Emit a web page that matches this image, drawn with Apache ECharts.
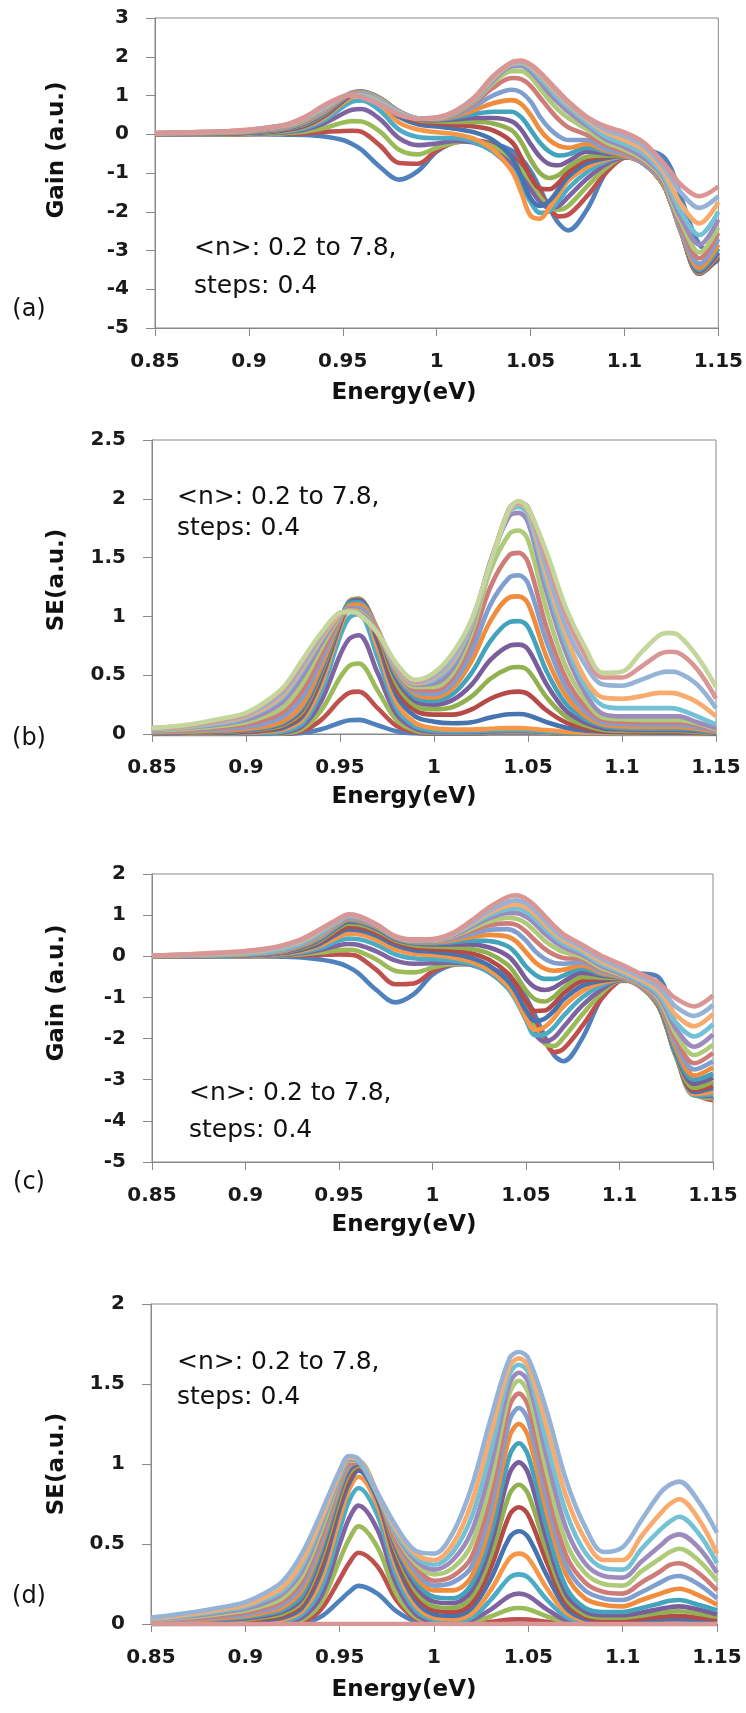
<!DOCTYPE html>
<html><head><meta charset="utf-8">
<script src="https://cdn.jsdelivr.net/npm/echarts/dist/echarts.min.js"></script>
<style>html,body{margin:0;padding:0;background:#fff;}#c{width:746px;height:1713px;}</style>
</head><body><div id="c"></div>
<script>
// Energy grids (eV)
const X_GAIN = [0.85,0.87,0.89,0.90,0.91,0.92,0.93,0.94,0.95,0.955,0.96,0.97,0.98,0.99,1.00,1.01,1.02,1.03,1.04,1.045,1.05,1.055,1.06,1.065,1.07,1.08,1.09,1.10,1.11,1.12,1.125,1.13,1.14,1.15];
const X_SE = [0.85,0.87,0.89,0.90,0.91,0.92,0.93,0.94,0.95,0.955,0.96,0.97,0.98,0.99,1.00,1.01,1.02,1.03,1.04,1.045,1.05,1.06,1.07,1.08,1.09,1.10,1.11,1.12,1.125,1.13,1.14,1.15];
const X_TICK_LABELS = ['0.85','0.9','0.95','1','1.05','1.1','1.15'];

// (a) Gain, <n> = 0.2 ... 7.8
const GAIN_A = [
[0,0,0,0,0,-0.01,-0.02,-0.06,-0.15,-0.25,-0.40,-0.85,-1.17,-0.95,-0.45,-0.20,-0.16,-0.24,-0.42,-0.62,-0.95,-1.40,-1.90,-2.30,-2.48,-1.95,-1.00,-0.55,-0.42,-0.55,-0.90,-1.60,-2.85,-3.10],
[0,0,0,0.003,0.007,0.015,0.03,0.06,0.085,0.09,0.06,-0.30,-0.74,-0.76,-0.42,-0.21,-0.17,-0.28,-0.55,-0.78,-1.10,-1.50,-1.90,-2.12,-2.08,-1.60,-1.00,-0.60,-0.55,-0.95,-1.45,-2.20,-3.35,-3.15],
[0,0,0.004,0.008,0.015,0.03,0.07,0.16,0.30,0.34,0.33,0.06,-0.40,-0.52,-0.35,-0.21,-0.18,-0.32,-0.65,-0.92,-1.25,-1.62,-1.88,-1.95,-1.85,-1.35,-0.88,-0.60,-0.66,-1.10,-1.60,-2.35,-3.45,-3.20],
[0,0.003,0.008,0.015,0.028,0.055,0.12,0.28,0.53,0.63,0.65,0.38,-0.10,-0.28,-0.24,-0.17,-0.22,-0.42,-0.78,-1.08,-1.42,-1.75,-1.90,-1.85,-1.62,-1.15,-0.78,-0.60,-0.70,-1.20,-1.72,-2.45,-3.50,-3.25],
[0.002,0.005,0.012,0.022,0.04,0.075,0.16,0.36,0.70,0.84,0.87,0.60,0.12,-0.07,-0.10,-0.10,-0.20,-0.45,-0.90,-1.30,-1.75,-2.03,-1.98,-1.72,-1.40,-0.98,-0.70,-0.58,-0.73,-1.25,-1.78,-2.50,-3.50,-3.20],
[0.004,0.008,0.017,0.03,0.05,0.095,0.20,0.42,0.80,0.96,1.00,0.76,0.30,0.12,0.05,0.0,-0.12,-0.40,-0.95,-1.50,-2.10,-2.18,-1.90,-1.55,-1.20,-0.85,-0.65,-0.57,-0.75,-1.25,-1.80,-2.50,-3.55,-3.20],
[0.006,0.012,0.022,0.037,0.06,0.11,0.22,0.46,0.85,1.02,1.06,0.85,0.45,0.26,0.20,0.14,0.05,-0.15,-0.60,-1.10,-1.65,-1.85,-1.72,-1.42,-1.10,-0.75,-0.62,-0.56,-0.75,-1.25,-1.80,-2.50,-3.60,-3.20],
[0.008,0.015,0.027,0.043,0.07,0.125,0.24,0.49,0.88,1.05,1.09,0.90,0.52,0.33,0.28,0.24,0.20,0.10,-0.20,-0.60,-1.10,-1.40,-1.42,-1.25,-0.98,-0.65,-0.58,-0.55,-0.75,-1.25,-1.80,-2.50,-3.60,-3.15],
[0.01,0.018,0.032,0.05,0.08,0.14,0.26,0.51,0.90,1.06,1.10,0.92,0.56,0.37,0.33,0.32,0.32,0.28,0.10,-0.20,-0.65,-1.00,-1.13,-1.05,-0.85,-0.58,-0.55,-0.55,-0.75,-1.25,-1.80,-2.50,-3.58,-3.10],
[0.012,0.022,0.037,0.056,0.09,0.15,0.28,0.53,0.91,1.07,1.10,0.93,0.58,0.39,0.36,0.38,0.42,0.42,0.33,0.12,-0.25,-0.58,-0.77,-0.80,-0.70,-0.45,-0.50,-0.55,-0.75,-1.25,-1.80,-2.50,-3.55,-3.05],
[0.014,0.025,0.042,0.062,0.10,0.16,0.30,0.55,0.92,1.07,1.09,0.93,0.59,0.40,0.38,0.43,0.52,0.58,0.58,0.44,0.12,-0.22,-0.45,-0.55,-0.52,-0.35,-0.45,-0.55,-0.75,-1.25,-1.80,-2.50,-3.50,-2.95],
[0.016,0.028,0.047,0.068,0.11,0.17,0.32,0.57,0.93,1.07,1.08,0.92,0.59,0.40,0.39,0.47,0.62,0.80,0.88,0.78,0.50,0.12,-0.15,-0.30,-0.35,-0.25,-0.42,-0.55,-0.75,-1.25,-1.80,-2.50,-3.45,-2.85],
[0.018,0.031,0.052,0.075,0.12,0.18,0.34,0.59,0.94,1.06,1.07,0.91,0.59,0.41,0.40,0.50,0.72,1.00,1.15,1.08,0.85,0.45,0.15,-0.05,-0.15,-0.15,-0.38,-0.50,-0.75,-1.20,-1.80,-2.45,-3.35,-2.70],
[0.02,0.035,0.057,0.082,0.13,0.20,0.36,0.61,0.95,1.05,1.06,0.90,0.59,0.41,0.41,0.53,0.80,1.20,1.45,1.42,1.25,0.95,0.65,0.38,0.18,-0.02,-0.28,-0.45,-0.70,-1.15,-1.75,-2.35,-3.20,-2.55],
[0.022,0.038,0.062,0.088,0.14,0.21,0.38,0.63,0.96,1.04,1.05,0.89,0.58,0.41,0.41,0.55,0.85,1.32,1.63,1.63,1.48,1.18,0.88,0.62,0.42,0.12,-0.20,-0.40,-0.65,-1.10,-1.70,-2.25,-3.05,-2.40],
[0.024,0.042,0.068,0.095,0.15,0.22,0.40,0.65,0.97,1.03,1.04,0.87,0.58,0.41,0.42,0.57,0.88,1.38,1.75,1.76,1.62,1.35,1.05,0.80,0.58,0.22,-0.13,-0.33,-0.60,-1.05,-1.60,-2.15,-2.85,-2.20],
[0.026,0.045,0.073,0.10,0.16,0.23,0.42,0.67,0.97,1.02,1.02,0.85,0.57,0.41,0.42,0.58,0.90,1.42,1.80,1.82,1.70,1.45,1.18,0.92,0.70,0.30,-0.05,-0.25,-0.50,-1.00,-1.50,-2.00,-2.60,-2.00],
[0.028,0.048,0.078,0.105,0.17,0.24,0.43,0.69,0.97,1.01,1.00,0.82,0.55,0.41,0.42,0.59,0.92,1.45,1.83,1.86,1.76,1.53,1.28,1.02,0.78,0.38,0.05,-0.15,-0.40,-0.90,-1.35,-1.80,-2.30,-1.75],
[0.03,0.05,0.082,0.11,0.18,0.25,0.45,0.71,0.97,1.00,0.98,0.79,0.53,0.41,0.43,0.60,0.94,1.48,1.85,1.88,1.79,1.58,1.33,1.07,0.82,0.42,0.12,-0.05,-0.30,-0.80,-1.15,-1.50,-1.90,-1.60],
[0.03,0.055,0.085,0.12,0.17,0.25,0.45,0.75,0.97,1.00,0.95,0.75,0.50,0.40,0.43,0.60,0.95,1.50,1.86,1.90,1.80,1.60,1.35,1.10,0.85,0.45,0.20,0.05,-0.20,-0.70,-1.00,-1.30,-1.60,-1.35]
];

// (b) SE
const SE_B = [
[0,0,0,0,0,0.001,0.008,0.04,0.096,0.117,0.12,0.074,0.024,0.006, 0.002,0.002,0.003,0.004,0.005,0.005,0.005,0.004,0.002,0.001,0, 0,0,0,0,0,0,0],
[0,0,0,0,0,0.004,0.025,0.12,0.29,0.35,0.36,0.22,0.07,0.017, 0.006,0.006,0.008,0.01,0.012,0.012,0.011,0.008,0.005,0.003,0.002, 0.001,0.001,0.001,0.001,0.001,0,0],
[0,0,0,0.001,0.002,0.007,0.043,0.20,0.48,0.58,0.60,0.37,0.12,0.03, 0.012,0.011,0.013,0.016,0.018,0.018,0.017,0.012,0.007,0.004,0.003, 0.002,0.002,0.002,0.002,0.002,0.001,0.001],
[0,0,0.001,0.002,0.004,0.012,0.065,0.28,0.67,0.81,0.84,0.52,0.17,0.045, 0.018,0.016,0.018,0.022,0.026,0.026,0.024,0.017,0.01,0.006,0.004, 0.003,0.003,0.003,0.003,0.003,0.002,0.002],
[0.001,0.002,0.004,0.006,0.01,0.024,0.09,0.36,0.83,0.99,1.02,0.65,0.22,0.065, 0.028,0.023,0.025,0.03,0.034,0.034,0.031,0.022,0.013,0.008,0.006, 0.005,0.004,0.004,0.004,0.004,0.003,0.002],
[0.003,0.005,0.008,0.012,0.02,0.04,0.12,0.42,0.90,1.07,1.10,0.73,0.27,0.095, 0.048,0.038,0.038,0.045,0.05,0.05,0.047,0.033,0.02,0.013,0.01, 0.008,0.007,0.007,0.007,0.006,0.005,0.003],
[0.005,0.008,0.012,0.017,0.028,0.055,0.15,0.47,0.93,1.11,1.14,0.79,0.33,0.15, 0.105,0.092,0.10,0.14,0.168,0.17,0.16,0.10,0.055,0.03,0.02, 0.016,0.013,0.011,0.011,0.01,0.008,0.005],
[0.007,0.01,0.016,0.022,0.035,0.07,0.17,0.50,0.95,1.13,1.15,0.83,0.38,0.2, 0.165,0.165,0.21,0.30,0.355,0.36,0.34,0.20,0.10,0.05,0.025, 0.02,0.018,0.018,0.018,0.018,0.014,0.006],
[0.009,0.013,0.02,0.028,0.042,0.08,0.19,0.52,0.96,1.13,1.15,0.86,0.43,0.24, 0.21,0.23,0.32,0.47,0.56,0.57,0.54,0.31,0.15,0.075,0.035, 0.028,0.025,0.025,0.025,0.025,0.018,0.008],
[0.011,0.016,0.024,0.033,0.05,0.09,0.21,0.54,0.97,1.12,1.14,0.88,0.47,0.28, 0.25,0.29,0.42,0.63,0.75,0.76,0.72,0.42,0.20,0.10,0.05, 0.04,0.035,0.035,0.035,0.035,0.025,0.012],
[0.013,0.019,0.028,0.038,0.056,0.10,0.23,0.56,0.97,1.11,1.12,0.89,0.50,0.31, 0.28,0.34,0.52,0.79,0.95,0.96,0.91,0.53,0.26,0.13,0.065, 0.05,0.045,0.045,0.045,0.045,0.035,0.015],
[0.015,0.022,0.032,0.043,0.063,0.11,0.25,0.58,0.97,1.09,1.10,0.89,0.52,0.34, 0.31,0.39,0.62,0.96,1.16,1.17,1.11,0.65,0.33,0.16,0.08, 0.065,0.06,0.06,0.06,0.06,0.045,0.02],
[0.02,0.03,0.045,0.06,0.09,0.15,0.31,0.63,0.98,1.07,1.07,0.87,0.53,0.36, 0.34,0.43,0.70,1.10,1.33,1.35,1.28,0.78,0.40,0.20,0.10, 0.085,0.08,0.08,0.08,0.08,0.06,0.025],
[0.025,0.038,0.06,0.08,0.12,0.19,0.37,0.68,0.99,1.06,1.05,0.86,0.54,0.38, 0.37,0.48,0.79,1.25,1.52,1.54,1.46,0.90,0.48,0.24,0.12, 0.105,0.10,0.10,0.10,0.10,0.075,0.03],
[0.03,0.046,0.075,0.10,0.15,0.23,0.43,0.73,1.0,1.05,1.04,0.86,0.55,0.40, 0.40,0.52,0.86,1.39,1.70,1.73,1.65,1.05,0.58,0.30,0.14, 0.125,0.12,0.12,0.12,0.12,0.09,0.04],
[0.035,0.055,0.09,0.12,0.18,0.28,0.49,0.77,1.01,1.04,1.03,0.86,0.56,0.42, 0.43,0.56,0.91,1.47,1.85,1.88,1.80,1.20,0.70,0.36,0.17, 0.15,0.15,0.15,0.15,0.15,0.10,0.05],
[0.04,0.06,0.10,0.14,0.21,0.32,0.54,0.80,1.02,1.04,1.02,0.86,0.57,0.43, 0.46,0.60,0.93,1.44,1.89,1.93,1.86,1.28,0.78,0.42,0.24, 0.22,0.22,0.22,0.22,0.21,0.15,0.08],
[0.042,0.065,0.11,0.15,0.22,0.34,0.56,0.81,1.02,1.04,1.02,0.86,0.57,0.43, 0.48,0.62,0.94,1.45,1.90,1.96,1.90,1.34,0.85,0.48,0.31, 0.30,0.32,0.35,0.35,0.34,0.27,0.15],
[0.045,0.07,0.12,0.16,0.24,0.36,0.58,0.83,1.03,1.04,1.02,0.86,0.58,0.44, 0.49,0.64,0.95,1.45,1.91,1.97,1.92,1.40,0.92,0.60,0.42, 0.41,0.46,0.52,0.53,0.52,0.42,0.22],
[0.05,0.075,0.13,0.17,0.26,0.38,0.61,0.85,1.03,1.04,1.02,0.86,0.59,0.45, 0.51,0.68,0.97,1.45,1.92,1.97,1.93,1.48,1.02,0.68,0.48, 0.48,0.57,0.68,0.70,0.69,0.55,0.30],
[0.05,0.08,0.14,0.18,0.27,0.40,0.63,0.86,1.03,1.04,1.02,0.86,0.60,0.46, 0.52,0.69,0.97,1.45,1.91,1.98,1.92,1.54,1.08,0.75,0.52, 0.53,0.69,0.84,0.86,0.84,0.66,0.40]
];

// (c) Gain
const GAIN_C = [
[0,0,0,0,0,-0.01,-0.03,-0.08,-0.17,-0.26,-0.40,-0.82,-1.12,-0.92,-0.45,-0.22,-0.18,-0.27,-0.48,-0.68,-1.00,-1.45,-1.95,-2.40,-2.55,-2.00,-1.05,-0.55,-0.42,-0.48,-0.85,-1.70,-3.10,-3.50],
[0,0,0,0.002,0.005,0.01,0.02,0.035,0.045,0.04,0.0,-0.33,-0.68,-0.66,-0.37,-0.20,-0.18,-0.30,-0.58,-0.82,-1.15,-1.60,-2.05,-2.33,-2.25,-1.70,-1.05,-0.60,-0.52,-0.85,-1.30,-2.05,-3.30,-3.50],
[0,0,0.003,0.006,0.012,0.022,0.045,0.09,0.15,0.16,0.13,-0.08,-0.35,-0.39,-0.28,-0.19,-0.19,-0.34,-0.66,-0.93,-1.30,-1.78,-2.12,-2.18,-1.98,-1.42,-0.92,-0.60,-0.60,-1.00,-1.50,-2.20,-3.35,-3.45],
[0,0.002,0.006,0.01,0.02,0.035,0.075,0.15,0.27,0.30,0.28,0.12,-0.10,-0.18,-0.17,-0.15,-0.20,-0.38,-0.74,-1.04,-1.45,-1.90,-2.07,-1.98,-1.72,-1.20,-0.82,-0.58,-0.64,-1.08,-1.60,-2.30,-3.38,-3.40],
[0.001,0.004,0.009,0.015,0.027,0.05,0.10,0.20,0.38,0.43,0.42,0.28,0.05,-0.05,-0.07,-0.10,-0.18,-0.38,-0.76,-1.10,-1.55,-1.92,-1.90,-1.72,-1.45,-1.00,-0.72,-0.57,-0.67,-1.12,-1.65,-2.35,-3.38,-3.35],
[0.002,0.006,0.012,0.02,0.035,0.065,0.13,0.26,0.48,0.55,0.54,0.40,0.17,0.06,0.03,-0.02,-0.12,-0.32,-0.70,-1.05,-1.50,-1.79,-1.72,-1.50,-1.22,-0.85,-0.65,-0.56,-0.69,-1.14,-1.68,-2.38,-3.35,-3.30],
[0.003,0.008,0.015,0.025,0.042,0.078,0.16,0.31,0.57,0.65,0.64,0.50,0.27,0.15,0.11,0.06,-0.03,-0.22,-0.58,-0.90,-1.32,-1.58,-1.52,-1.32,-1.05,-0.72,-0.60,-0.55,-0.70,-1.15,-1.70,-2.40,-3.30,-3.20],
[0.004,0.01,0.018,0.03,0.05,0.09,0.18,0.35,0.63,0.72,0.71,0.57,0.34,0.22,0.18,0.14,0.08,-0.08,-0.40,-0.70,-1.08,-1.33,-1.32,-1.15,-0.90,-0.60,-0.56,-0.54,-0.70,-1.15,-1.70,-2.40,-3.25,-3.15],
[0.005,0.012,0.021,0.034,0.056,0.10,0.20,0.38,0.69,0.79,0.78,0.63,0.39,0.27,0.24,0.22,0.18,0.07,-0.20,-0.48,-0.83,-1.05,-1.10,-0.98,-0.77,-0.50,-0.52,-0.53,-0.70,-1.15,-1.70,-2.40,-3.20,-3.05],
[0.006,0.014,0.024,0.038,0.062,0.11,0.22,0.41,0.73,0.84,0.83,0.67,0.42,0.31,0.29,0.29,0.29,0.22,0.02,-0.22,-0.55,-0.76,-0.82,-0.76,-0.62,-0.40,-0.47,-0.52,-0.70,-1.12,-1.65,-2.35,-3.10,-2.95],
[0.007,0.016,0.027,0.042,0.068,0.12,0.24,0.44,0.76,0.88,0.86,0.70,0.44,0.33,0.32,0.34,0.38,0.37,0.25,0.05,-0.25,-0.45,-0.55,-0.55,-0.47,-0.30,-0.43,-0.51,-0.70,-1.10,-1.60,-2.30,-3.00,-2.85],
[0.008,0.018,0.03,0.046,0.074,0.13,0.26,0.47,0.79,0.91,0.89,0.72,0.46,0.35,0.34,0.38,0.46,0.52,0.48,0.35,0.10,-0.15,-0.30,-0.35,-0.33,-0.22,-0.40,-0.50,-0.70,-1.08,-1.55,-2.20,-2.90,-2.70],
[0.009,0.02,0.033,0.05,0.08,0.14,0.28,0.49,0.81,0.93,0.91,0.74,0.47,0.36,0.36,0.42,0.53,0.64,0.66,0.58,0.38,0.12,-0.06,-0.16,-0.18,-0.15,-0.36,-0.48,-0.68,-1.05,-1.50,-2.10,-2.75,-2.55],
[0.01,0.022,0.036,0.054,0.086,0.15,0.29,0.51,0.83,0.95,0.93,0.75,0.48,0.37,0.37,0.45,0.60,0.75,0.80,0.76,0.60,0.38,0.18,0.04,-0.04,-0.08,-0.32,-0.46,-0.66,-1.02,-1.45,-2.00,-2.60,-2.35],
[0.011,0.024,0.039,0.058,0.09,0.16,0.30,0.53,0.85,0.96,0.94,0.76,0.48,0.38,0.38,0.47,0.65,0.84,0.93,0.91,0.80,0.60,0.38,0.22,0.10,-0.02,-0.28,-0.44,-0.64,-0.98,-1.38,-1.88,-2.40,-2.15],
[0.012,0.026,0.042,0.062,0.095,0.17,0.31,0.55,0.86,0.97,0.95,0.76,0.48,0.38,0.39,0.49,0.70,0.92,1.05,1.05,0.96,0.78,0.55,0.36,0.22,0.04,-0.23,-0.41,-0.62,-0.94,-1.30,-1.75,-2.20,-1.90],
[0.013,0.028,0.045,0.066,0.10,0.18,0.32,0.57,0.87,0.98,0.96,0.76,0.48,0.39,0.40,0.51,0.74,0.99,1.14,1.16,1.08,0.90,0.68,0.47,0.31,0.10,-0.18,-0.37,-0.58,-0.88,-1.20,-1.60,-1.95,-1.65],
[0.016,0.036,0.07,0.095,0.14,0.23,0.37,0.62,0.88,0.99,0.97,0.77,0.48,0.39,0.40,0.52,0.77,1.05,1.23,1.26,1.19,1.01,0.78,0.56,0.39,0.16,-0.12,-0.32,-0.53,-0.80,-1.08,-1.42,-1.70,-1.40],
[0.018,0.042,0.085,0.11,0.16,0.25,0.40,0.64,0.89,1.00,0.98,0.77,0.48,0.40,0.41,0.53,0.80,1.10,1.32,1.36,1.29,1.11,0.87,0.64,0.46,0.22,-0.05,-0.26,-0.47,-0.72,-0.95,-1.22,-1.45,-1.18],
[0.02,0.05,0.10,0.13,0.18,0.27,0.42,0.66,0.92,1.02,0.99,0.78,0.49,0.41,0.42,0.55,0.84,1.18,1.44,1.48,1.40,1.22,0.98,0.74,0.54,0.28,0.02,-0.18,-0.40,-0.62,-0.82,-1.02,-1.22,-0.95]
];

// (d) SE
const SE_D = [
[0,0,0,0,0,0.001,0.007,0.045,0.146,0.20,0.238,0.19,0.08,0.017, 0.003,0.001,0.001,0.001,0.002,0.002,0.002,0.001,0.001,0,0, 0,0,0,0,0,0,0],
[0,0,0,0,0.001,0.002,0.014,0.09,0.28,0.38,0.445,0.36,0.15,0.035, 0.006,0.002,0.004,0.014,0.028,0.03,0.028,0.014,0.004,0.001,0, 0,0,0,0,0,0,0],
[0,0,0,0.001,0.002,0.004,0.025,0.13,0.40,0.53,0.61,0.48,0.19,0.045, 0.008,0.004,0.013,0.047,0.092,0.10,0.092,0.047,0.012,0.002,0, 0,0,0,0,0,0,0],
[0,0.001,0.002,0.003,0.005,0.009,0.04,0.17,0.50,0.66,0.74,0.59,0.25,0.065, 0.014,0.008,0.025,0.09,0.175,0.19,0.175,0.09,0.024,0.005,0.002, 0.002,0.003,0.004,0.005,0.005,0.004,0.003],
[0.001,0.002,0.004,0.006,0.01,0.018,0.06,0.22,0.59,0.77,0.85,0.68,0.30,0.09, 0.025,0.015,0.04,0.15,0.29,0.31,0.29,0.15,0.045,0.01,0.005, 0.005,0.007,0.009,0.01,0.01,0.008,0.006],
[0.002,0.004,0.007,0.01,0.016,0.028,0.08,0.27,0.66,0.84,0.92,0.74,0.35,0.12, 0.04,0.03,0.065,0.21,0.41,0.44,0.41,0.22,0.07,0.02,0.01, 0.01,0.014,0.018,0.02,0.02,0.016,0.012],
[0.004,0.007,0.012,0.016,0.024,0.04,0.10,0.32,0.72,0.88,0.96,0.78,0.39,0.15, 0.06,0.05,0.10,0.28,0.54,0.58,0.54,0.30,0.10,0.03,0.015, 0.015,0.02,0.027,0.03,0.03,0.024,0.018],
[0.006,0.01,0.017,0.022,0.033,0.053,0.12,0.36,0.76,0.91,0.98,0.80,0.42,0.18, 0.085,0.075,0.13,0.35,0.68,0.73,0.68,0.38,0.13,0.045,0.025, 0.025,0.033,0.044,0.048,0.05,0.04,0.03],
[0.008,0.013,0.022,0.028,0.042,0.065,0.14,0.40,0.79,0.94,0.99,0.81,0.45,0.21, 0.11,0.10,0.17,0.42,0.81,0.87,0.81,0.45,0.16,0.06,0.04, 0.04,0.052,0.07,0.077,0.08,0.065,0.045],
[0.01,0.016,0.027,0.035,0.05,0.078,0.16,0.43,0.82,0.96,1.0,0.81,0.47,0.24, 0.14,0.13,0.21,0.49,0.94,1.01,0.94,0.52,0.19,0.08,0.055, 0.055,0.072,0.095,0.105,0.11,0.09,0.06],
[0.013,0.02,0.033,0.042,0.06,0.09,0.18,0.46,0.84,0.98,1.01,0.81,0.49,0.27, 0.17,0.16,0.25,0.56,1.05,1.13,1.05,0.59,0.23,0.10,0.075, 0.075,0.10,0.13,0.145,0.15,0.12,0.085],
[0.016,0.025,0.04,0.05,0.07,0.105,0.21,0.49,0.86,0.99,1.01,0.81,0.50,0.30, 0.21,0.21,0.30,0.64,1.17,1.25,1.17,0.69,0.31,0.16,0.12, 0.11,0.15,0.19,0.21,0.22,0.18,0.12],
[0.019,0.03,0.048,0.06,0.085,0.125,0.24,0.52,0.88,1.0,1.01,0.81,0.52,0.33, 0.24,0.26,0.36,0.72,1.27,1.35,1.27,0.77,0.37,0.21,0.16, 0.15,0.20,0.26,0.29,0.30,0.25,0.16],
[0.022,0.036,0.057,0.072,0.10,0.145,0.27,0.55,0.90,1.01,1.01,0.81,0.53,0.36, 0.27,0.30,0.42,0.80,1.36,1.44,1.36,0.85,0.43,0.26,0.20, 0.19,0.26,0.33,0.37,0.38,0.32,0.21],
[0.025,0.042,0.067,0.084,0.115,0.165,0.30,0.58,0.91,1.02,1.02,0.81,0.55,0.38, 0.31,0.35,0.50,0.89,1.44,1.52,1.44,0.94,0.51,0.32,0.25, 0.24,0.33,0.41,0.45,0.47,0.40,0.27],
[0.028,0.048,0.077,0.096,0.13,0.19,0.33,0.61,0.92,1.03,1.02,0.81,0.56,0.40, 0.34,0.40,0.58,0.98,1.50,1.57,1.51,1.03,0.60,0.38,0.30, 0.29,0.39,0.49,0.54,0.56,0.48,0.32],
[0.031,0.054,0.087,0.108,0.15,0.21,0.36,0.63,0.93,1.04,1.02,0.81,0.57,0.42, 0.37,0.45,0.67,1.08,1.56,1.62,1.57,1.12,0.70,0.45,0.35, 0.34,0.47,0.59,0.64,0.67,0.57,0.38],
[0.034,0.06,0.096,0.118,0.165,0.23,0.39,0.65,0.94,1.04,1.03,0.82,0.59,0.44, 0.40,0.50,0.76,1.18,1.61,1.66,1.61,1.22,0.80,0.53,0.40, 0.40,0.55,0.69,0.75,0.78,0.66,0.44],
[0.04,0.07,0.11,0.136,0.19,0.27,0.44,0.69,0.96,1.05,1.03,0.82,0.61,0.46, 0.44,0.57,0.86,1.28,1.66,1.70,1.66,1.32,0.90,0.61,0.45, 0.48,0.65,0.82,0.87,0.89,0.77,0.57],
[0,0,0,0,0,0,0,0,0,0,0,0,0,0, 0,0,0,0,0,0,0,0,0,0,0, 0,0,0,0,0,0,0]
];

const COLORS = ['#4F81BD','#C0504D','#9BBB59','#8064A2','#4BACC6','#F79646',
  '#4674B0','#B64A47','#91B150','#7A5E9B','#44A3BC','#F08C3C',
  '#7F9FD0','#CF7C79','#AECB7A','#9E8BBE','#74C1D6','#F8AB6C',
  '#95B3D7','#D99694','#C3D69B'];

const FONT = '"DejaVu Sans", "Liberation Sans", sans-serif';
const AXIS_COLOR = '#898989';

const PANELS = [
  {left:155, top:18,   width:564, height:310, ymin:-5, ymax:3,   yint:1,   x:X_GAIN, data:GAIN_A, ytitle:'Gain (a.u.)', ytY:150,  xtY:393,  tag:'(a)', tagY:310,  ann:[194,248,286]},
  {left:152, top:440,  width:564, height:294, ymin:0,  ymax:2.5, yint:0.5, x:X_SE,   data:SE_B,   ytitle:'SE(a.u.)',    ytY:580,  xtY:797,  tag:'(b)', tagY:739,  ann:[177,497,528]},
  {left:152, top:874,  width:561, height:288, ymin:-5, ymax:2,   yint:1,   x:X_GAIN, data:GAIN_C, ytitle:'Gain (a.u.)', ytY:993,  xtY:1225, tag:'(c)', tagY:1183, ann:[189,1093,1130]},
  {left:151, top:1304, width:566, height:320, ymin:0,  ymax:2,   yint:0.5, x:X_SE,   data:SE_D,   ytitle:'SE(a.u.)',    ytY:1464, xtY:1690, tag:'(d)', tagY:1597, ann:[177,1362,1397]}
];

const grids = [], xAxes = [], yAxes = [], series = [], graphics = [];
PANELS.forEach((p, pi) => {
  grids.push({left:p.left, top:p.top, width:p.width, height:p.height, show:true, borderColor:AXIS_COLOR, borderWidth:1, backgroundColor:'transparent'});
  xAxes.push({gridIndex:pi, type:'value', min:0.85, max:1.15, interval:0.05,
    axisLine:{show:true, onZero:false, lineStyle:{color:AXIS_COLOR, width:1}},
    axisTick:{show:true, length:8, lineStyle:{color:AXIS_COLOR}},
    splitLine:{show:false},
    axisLabel:{margin:24, fontFamily:FONT, fontSize:20, fontWeight:'bold', color:'#1a1a1a',
      formatter: v => X_TICK_LABELS[Math.round((v - 0.85) / 0.05)]}
  });
  yAxes.push({gridIndex:pi, type:'value', min:p.ymin, max:p.ymax, interval:p.yint,
    axisLine:{show:true, onZero:false, lineStyle:{color:AXIS_COLOR, width:1}},
    axisTick:{show:true, length:9, lineStyle:{color:AXIS_COLOR}},
    splitLine:{show:false},
    axisLabel:{margin:26, fontFamily:FONT, fontSize:20, fontWeight:'bold', color:'#1a1a1a'}
  });
  p.data.forEach((ys, si) => {
    series.push({type:'line', xAxisIndex:pi, yAxisIndex:pi, symbol:'none', showSymbol:false,
      smooth:0.35, silent:true, clip:true,
      lineStyle:{width:4.6, color:COLORS[si]}, itemStyle:{color:COLORS[si]},
      data: p.x.map((xv, i) => [xv, ys[i]])});
  });
  graphics.push({type:'text', x:57, y:p.ytY, rotation:Math.PI/2,
    style:{text:p.ytitle, font:'bold 23px ' + FONT, fill:'#111', textAlign:'center', textVerticalAlign:'middle', verticalAlign:'middle'}});
  graphics.push({type:'text', x:404, y:p.xtY,
    style:{text:'Energy(eV)', font:'bold 23px ' + FONT, fill:'#111', textAlign:'center', textVerticalAlign:'middle', verticalAlign:'middle'}});
  graphics.push({type:'text', x:29, y:p.tagY,
    style:{text:p.tag, font:'24px ' + FONT, fill:'#111', textAlign:'center', textVerticalAlign:'middle', verticalAlign:'middle'}});
  graphics.push({type:'text', x:p.ann[0], y:p.ann[1],
    style:{text:'<n>: 0.2 to 7.8,', font:'25px ' + FONT, fill:'#111', textAlign:'left', textVerticalAlign:'middle', verticalAlign:'middle'}});
  graphics.push({type:'text', x:p.ann[0], y:p.ann[2],
    style:{text:'steps: 0.4', font:'25px ' + FONT, fill:'#111', textAlign:'left', textVerticalAlign:'middle', verticalAlign:'middle'}});
});

const chart = echarts.init(document.getElementById('c'), null, {renderer:'canvas', width:746, height:1713});
chart.setOption({animation:false, backgroundColor:'#fff', grid:grids, xAxis:xAxes, yAxis:yAxes, series:series, graphic:graphics});
</script></body></html>
